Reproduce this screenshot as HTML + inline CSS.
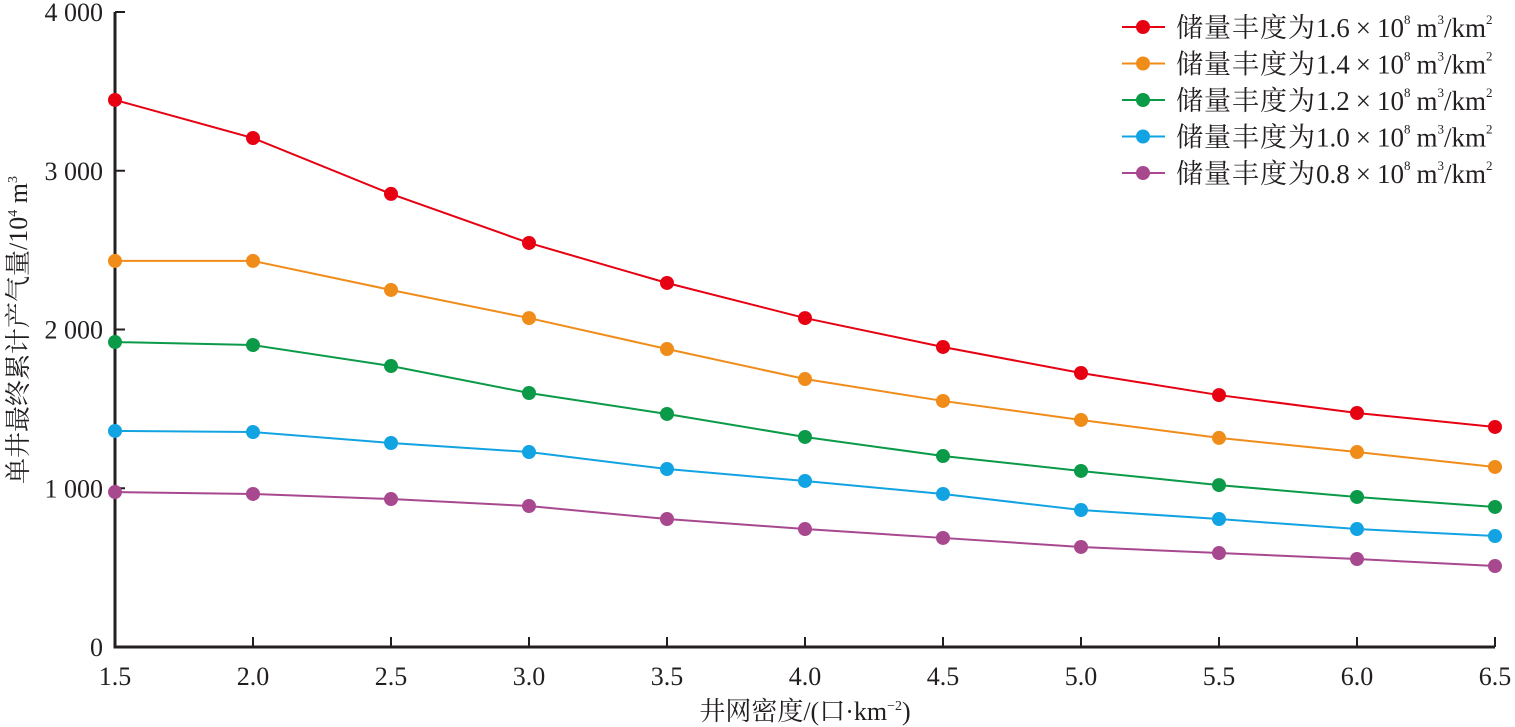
<!DOCTYPE html>
<html><head><meta charset="utf-8"><style>
html,body{margin:0;padding:0;background:#fff;}
svg{display:block;font-family:"Liberation Serif","Noto Serif CJK SC",serif;}
</style></head><body>
<svg id="chart" width="1515" height="727" viewBox="0 0 1515 727" xmlns="http://www.w3.org/2000/svg">
<g id="axes"></g>
<g id="series"></g>
<g id="legend"></g>
<text x="805" y="720" font-size="26" text-anchor="middle" fill="#231f20">井网密度/(口·km<tspan font-size="14" dy="-10">−2</tspan><tspan dy="10">)</tspan></text>
<text transform="translate(27,330) rotate(-90)" font-size="26" text-anchor="middle" fill="#231f20">单井最终累计产气量/10<tspan font-size="14" dy="-10">4</tspan><tspan dy="10"> m</tspan><tspan font-size="14" dy="-10">3</tspan></text>
</svg>
<script>
const xValues = [1.5,2.0,2.5,3.0,3.5,4.0,4.5,5.0,5.5,6.0,6.5];
const xTickLabels = ["1.5","2.0","2.5","3.0","3.5","4.0","4.5","5.0","5.5","6.0","6.5"];
const yTicks = [0,1000,2000,3000,4000];
const yTickLabels = ["0","1 000","2 000","3 000","4 000"];
const series16 = [3446,3206,2854,2545,2293,2072,1890,1726,1587,1474,1386];
const series14 = [2432,2432,2249,2072,1877,1688,1550,1430,1317,1228,1134];
const series12 = [1921,1902,1770,1600,1468,1323,1203,1109,1020,945,882];
const series10 = [1361,1354,1285,1228,1121,1046,964,863,806,743,699];
const series08 = [976,964,932,888,806,743,687,630,592,554,510];
const seriesNames = ["1.6","1.4","1.2","1.0","0.8"];

const NS="http://www.w3.org/2000/svg";
const X0=115,X1=1495,Y0=647,Y1=12;
const xs=v=>X0+(v-1.5)/(6.5-1.5)*(X1-X0);
const ys=v=>Y0-v/4000*(Y0-Y1);
function mk(t,a,p){const e=document.createElementNS(NS,t);for(const k in a)e.setAttribute(k,a[k]);p.appendChild(e);return e;}
const axes=document.getElementById('axes');
const ya=mk('line',{x1:X0,y1:Y1,x2:X0,y2:Y0,stroke:'#231f20','stroke-width':3},axes);


const xa=mk('line',{x1:X0-1.5,y1:Y0,x2:X1,y2:Y0,stroke:'#231f20','stroke-width':3},axes);


yTicks.forEach((v,i)=>{
  const t=mk('line',{x1:X0,y1:ys(v),x2:X0+10,y2:ys(v),stroke:'#231f20','stroke-width':2},axes);
  
  
  const l=mk('text',{x:103,y:ys(v)+9,'font-size':26,'text-anchor':'end',fill:'#231f20'},axes);
  
  
  l.textContent=yTickLabels[i];
});
xValues.forEach((v,i)=>{
  const t=mk('line',{x1:xs(v),y1:Y0,x2:xs(v),y2:Y0-10,stroke:'#231f20','stroke-width':2},axes);
  
  
  const l=mk('text',{x:xs(v),y:685,'font-size':26,'text-anchor':'middle',fill:'#231f20'},axes);
  
  
  l.textContent=xTickLabels[i];
});
const allSeries=[series16,series14,series12,series10,series08];
const colors=['#e60012','#f08c1a','#0a9a48','#12a3e2','#a8488f'];
const sg=document.getElementById('series');
allSeries.forEach((s,k)=>{
  const pl=mk('polyline',{points:s.map((v,i)=>xs(xValues[i])+','+ys(v)).join(' '),fill:'none',stroke:colors[k],'stroke-width':2},sg);
  
  
  s.forEach((v,i)=>{
    const c=mk('circle',{cx:xs(xValues[i]),cy:ys(v),r:7,fill:colors[k]},sg);
    
    
  });
});
const lg=document.getElementById('legend');
seriesNames.forEach((n,k)=>{
  const y=27+k*36.5;
  const g=mk('g',{},lg);
  
  
  mk('line',{x1:1122,y1:y,x2:1165,y2:y,stroke:colors[k],'stroke-width':2},g);
  mk('circle',{cx:1143,cy:y,r:7,fill:colors[k]},g);
  const t=mk('text',{x:1176,y:y+10,'font-size':27,fill:'#231f20'},g);
  t.innerHTML='<tspan letter-spacing="1">储量丰度为</tspan>'+n+'<tspan dx="6">×</tspan><tspan dx="6">10</tspan><tspan font-size="13" dy="-13">8</tspan><tspan dy="13" dx="6">m</tspan><tspan font-size="13" dy="-13">3</tspan><tspan dy="13">/km</tspan><tspan font-size="13" dy="-13">2</tspan>';
});
</script>
</body></html>
